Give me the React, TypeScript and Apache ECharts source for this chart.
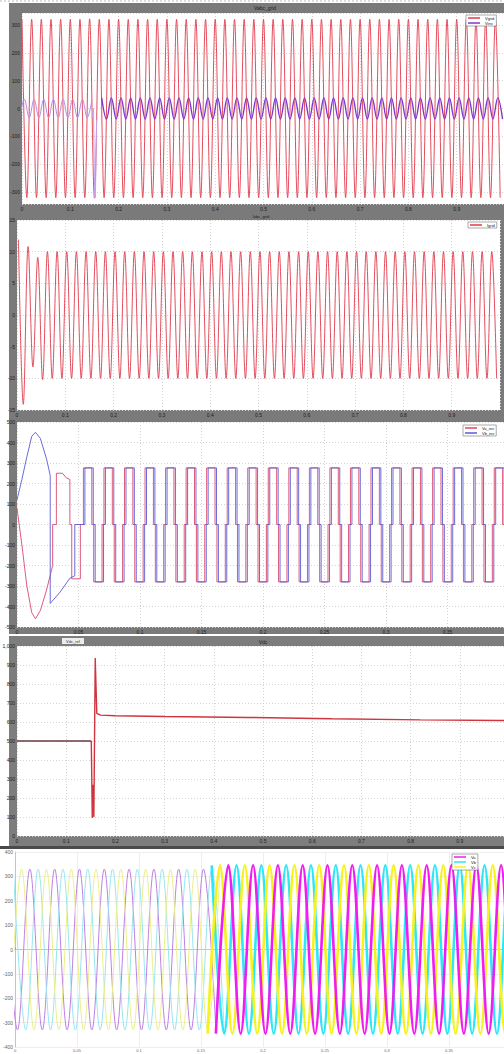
import { useEffect, useRef } from "react";
import * as echarts from "echarts";

const FONT = "Liberation Sans";

// ---------------- texts ----------------
const panelTitles = ["Vabc_grid", "Iabc_grid", "Vdc"];
const panel4Tag = "Vdc_ref";
const p1Names = ["Vgrid", "Vinv"];
const p2Names = ["Igrid"];
const p3Names = ["Va_inv", "Vb_inv"];
const p5Names = ["Va", "Vb", "Vc"];

// ---------------- panel 1 : grid voltage (V), extrema per cycle ----------------
const p1RedAmp = [
  320, 320, 320, 320, 320, 320, 320, 322, 320, 320,
  320, 320, 320, 320, 320, 320, 320, 320, 320, 320,
  320, 320, 320, 320, 320, 320, 320, 320, 320, 320,
  320, 320, 320, 320, 320, 320, 320, 320, 320, 320,
  320, 320, 320, 320, 320, 320, 320, 320, 320, 320,
];
const p1PurplePreAmp = [33, 33, 33, 33, 33, 33, 33, 33];
const p1DipT = [0.145, 0.148, 0.1505, 0.152, 0.1545];
const p1DipV = [-33, 0, -322, -320, -40];
const p1PurplePostAmp = [
  38, 38, 38, 38, 38, 38, 38, 38, 38, 38,
  38, 38, 38, 38, 38, 38, 38, 38, 38, 38,
  38, 38, 38, 38, 38, 38, 38, 38, 38, 38,
  38, 38, 38, 38, 38, 38, 38, 38, 38, 38,
  38, 38,
];

// ---------------- panel 2 : grid current (A), peaks / troughs per cycle ----------------
const p2Peaks = [
  11.9, 10.8, 9.1, 10.0, 10.0, 10.0, 10.0, 10.0, 10.0, 10.0,
  10.0, 10.0, 10.0, 10.0, 10.0, 10.0, 10.0, 10.0, 10.0, 10.0,
  10.0, 10.0, 10.0, 10.0, 10.0, 10.0, 10.0, 10.0, 10.0, 10.0,
  10.0, 10.0, 10.0, 10.0, 10.0, 10.0, 10.0, 10.0, 10.0, 10.0,
  10.0, 10.0, 10.0, 10.0, 10.0, 10.0, 10.0, 10.0, 10.0, 10.0,
];
const p2Troughs = [
  -14.1, -8.2, -10.2, -10.0, -10.0, -10.0, -10.0, -10.0, -10.0, -10.0,
  -10.0, -10.0, -10.0, -10.0, -10.0, -10.0, -10.0, -10.0, -10.0, -10.0,
  -10.0, -10.0, -10.0, -10.0, -10.0, -10.0, -10.0, -10.0, -10.0, -10.0,
  -10.0, -10.0, -10.0, -10.0, -10.0, -10.0, -10.0, -10.0, -10.0, -10.0,
  -10.0, -10.0, -10.0, -10.0, -10.0, -10.0, -10.0, -10.0, -10.0, -10.0,
];

// ---------------- panel 3 : inverter legs, start-up then pulses ----------------
const p3RedStartT = [0, 0.004, 0.008, 0.012, 0.015, 0.019, 0.024, 0.029, 0.029, 0.032, 0.032, 0.037, 0.04, 0.043, 0.043, 0.0445, 0.0445, 0.0515, 0.0515, 0.054];
const p3RedStartV = [80, -100, -300, -430, -460, -420, -320, -200, 0, 0, 250, 250, 228, 220, 0, 0, -265, -265, 0, 0];
const p3BlueStartT = [0, 0.004, 0.008, 0.012, 0.015, 0.019, 0.024, 0.027, 0.027, 0.035, 0.043, 0.047, 0.047, 0.0552];
const p3BlueStartV = [120, 220, 330, 430, 450, 420, 320, 240, -385, -330, -262, -250, 0, 0];
const p3RedHigh = [276, 276, 276, 276, 276, 276, 276, 276, 276, 276, 276, 276, 276, 276, 276, 276, 276, 276, 276, 276, 276, 276];
const p3RedLow = [-280, -280, -280, -280, -280, -280, -280, -280, -280, -280, -280, -280, -280, -280, -280, -280, -280, -280, -280, -280, -280, -280];
const p3BlueHigh = [276, 276, 276, 276, 276, 276, 276, 276, 276, 276, 276, 276, 276, 276, 276, 276, 276, 276, 276, 276, 276, 276];
const p3BlueLow = [-280, -280, -280, -280, -280, -280, -280, -280, -280, -280, -280, -280, -280, -280, -280, -280, -280, -280, -280, -280, -280, -280];

// ---------------- panel 4 : DC link ----------------
const p4Time = [0, 0.151, 0.153, 0.1548, 0.1562, 0.159, 0.1622, 0.17, 0.2, 0.3, 0.47, 0.64, 0.82, 0.98, 1.0];
const p4Value = [500, 500, 95, 270, 100, 937, 645, 636, 633, 629, 624, 617, 611, 608, 608];

// ---------------- panel 5 : three-phase voltages, amplitude per cycle ----------------
const p5MagPre = [330, 330, 330, 330, 330, 330, 330, 330, 330];
const p5CyaPre = [330, 330, 330, 330, 330, 330, 330, 330, 330];
const p5YelPre = [330, 330, 330, 330, 330, 330, 330, 330, 330];
const p5MagPost = [345, 345, 345, 345, 345, 345, 345, 345, 345, 345, 345, 345, 345];
const p5CyaPost = [345, 345, 345, 345, 345, 345, 345, 345, 345, 345, 345, 345, 345];
const p5YelPost = [345, 345, 345, 345, 345, 345, 345, 345, 345, 345, 345, 345, 345];

// ---------------- helpers ----------------
function alternate(t0: number, half: number, first: number, amps: number[]) {
  const pts: number[][] = [];
  amps.forEach((a, i) => {
    pts.push([t0 + 2 * i * half, first * a]);
    pts.push([t0 + (2 * i + 1) * half, -first * a]);
  });
  return pts;
}
function interleave(t0: number, half: number, peaks: number[], troughs: number[]) {
  const pts: number[][] = [];
  peaks.forEach((p, i) => {
    pts.push([t0 + 2 * i * half, p]);
    pts.push([t0 + (2 * i + 1) * half, troughs[i]]);
  });
  return pts;
}
function zip(ts: number[], vs: number[]) {
  return ts.map((t, i) => [t, vs[i]]);
}
function pulses(start: number, period: number, width: number, highs: number[], lows: number[]) {
  const pts: number[][] = [];
  highs.forEach((h, i) => {
    const s = start + i * period;
    const m = s + period / 2;
    pts.push([s, 0], [s, h], [s + width, h], [s + width, 0], [m, 0], [m, lows[i]], [m + width, lows[i]], [m + width, 0]);
  });
  return pts;
}

const txt = { fontSize: 5, color: "#1e1e1e", fontFamily: FONT };

// labels of ticks that fall past the right edge of the page are left blank
function xAxis(gi: number, max: number, interval: number, lastShown: number, p5 = false) {
  return {
    type: "value", gridIndex: gi, min: 0, max, interval,
    axisLine: { show: p5, lineStyle: { color: "#c4c4c4" } },
    axisTick: { show: p5, length: 2, inside: true, lineStyle: { color: "#999" } },
    axisLabel: {
      ...txt, margin: p5 ? 1 : 2, fontSize: p5 ? 4 : 5, color: p5 ? "#666" : "#1e1e1e",
      formatter: (v: number) => (v > lastShown + 1e-9 ? "" : String(+v.toFixed(2))),
    },
    splitLine: { show: true, lineStyle: p5 ? { color: "#eeeeee", width: 1 } : { color: "#d4d4d4", type: [1, 2], width: 1 } },
  };
}
function yAxis(gi: number, min: number, max: number, interval?: number, p5 = false) {
  const a: any = {
    type: "value", gridIndex: gi, min, max,
    axisLine: { show: p5, lineStyle: { color: "#c4c4c4" } },
    axisTick: { show: false },
    axisLabel: { ...txt, margin: 2, showMinLabel: interval !== undefined, showMaxLabel: interval !== undefined, color: p5 ? "#666" : "#1e1e1e" },
    splitLine: { show: true, lineStyle: p5 ? { color: "#eeeeee", width: 1 } : { color: "#d4d4d4", type: [1, 2], width: 1 } },
  };
  if (interval !== undefined) a.interval = interval;
  else a.splitNumber = 7;
  return a;
}

function line(name: string, xi: number, data: number[][], color: string, width: number, smooth: number | false, opacity = 1) {
  return {
    type: "line", name, xAxisIndex: xi, yAxisIndex: xi, data,
    showSymbol: false, symbol: "none", smooth, silent: true,
    lineStyle: { color, width, opacity }, itemStyle: { color },
  };
}

const legendBase = {
  orient: "vertical", icon: "rect", itemWidth: 12, itemHeight: 1.5, itemGap: 1,
  textStyle: { fontSize: 4, color: "#222", fontFamily: FONT },
  backgroundColor: "#ffffff", borderColor: "#555", borderWidth: 0.5, padding: [1, 2],
  selectedMode: false,
};

function buildOption() {
  const grids = [
    { left: 22, top: 13, width: 483, height: 191 },
    { left: 17, top: 220, width: 483, height: 190 },
    { left: 17, top: 422, width: 615, height: 205 },
    { left: 17, top: 646, width: 492, height: 190 },
    { left: 15, top: 852, width: 620, height: 195 },
  ];

  const series: any[] = [
    // panel 1
    line(p1Names[0], 0, alternate(0, 0.01, 1, p1RedAmp), "#e03a4a", 1, 0.36, 0.9),
    line("Vinv_pre", 0, alternate(-0.005, 0.01, -1, p1PurplePreAmp), "#b98be8", 1, 0.36),
    line("Vinv_dip", 0, zip(p1DipT, p1DipV), "#c6a4ee", 1, false),
    line(p1Names[1], 0, alternate(0.165, 0.01, 1, p1PurplePostAmp), "#8236cc", 1.4, 0.36),
    // panel 2
    line(p2Names[0], 1, interleave(0.003, 0.01, p2Peaks, p2Troughs), "#e03a4a", 1, 0.36, 0.9),
    // panel 3
    line("Va_start", 2, zip(p3RedStartT, p3RedStartV), "#d9486c", 0.9, false),
    line("Vb_start", 2, zip(p3BlueStartT, p3BlueStartV), "#5a5ad6", 0.9, false),
    line(p3Names[0], 2, pulses(0.054, 0.0167, 0.0068, p3RedHigh, p3RedLow), "#d9486c", 0.9, false),
    line(p3Names[1], 2, pulses(0.0552, 0.0167, 0.0068, p3BlueHigh, p3BlueLow), "#5a5ad6", 0.9, false),
    // panel 4
    line("Vdc_pre", 3, zip(p4Time.slice(0, 2), p4Value.slice(0, 2)), "#6b3a3e", 1.3, false),
    line("Vdc", 3, zip(p4Time.slice(1), p4Value.slice(1)), "#d0343e", 1.4, false),
    // panel 5 (before sync: light, after: saturated)
    line("Va_pre", 4, alternate(-0.008, 0.01, 1, p5MagPre), "#bd80e2", 1, 0.36),
    line("Vb_pre", 4, alternate(-0.00133, 0.01, 1, p5CyaPre), "#98e6f0", 1, 0.36),
    line("Vc_pre", 4, alternate(-0.00467, 0.01, -1, p5YelPre), "#ecef8a", 1, 0.36),
    line(p5Names[1], 4, alternate(0.15867, 0.01, 1, p5CyaPost), "#2ee6f6", 2.6, 0.36),
    line(p5Names[2], 4, alternate(0.15533, 0.01, -1, p5YelPost), "#f7f21c", 2.6, 0.36),
    line(p5Names[0], 4, alternate(0.162, 0.01, -1, p5MagPost), "#f01cf0", 2.6, 0.36),
  ];

  const graphic: any[] = [
    { type: "line", z: -120, shape: { x1: 0, y1: 1, x2: 504, y2: 1 }, style: { stroke: "#b8b8b8", lineWidth: 1, lineDash: [2, 2] } },
    { type: "rect", z: -110, shape: { x: 9, y: 3, width: 495, height: 631 }, style: { fill: "#7a7a7a" } },
    { type: "rect", z: -110, shape: { x: 9, y: 636, width: 495, height: 210 }, style: { fill: "#7d7d7d" } },
    { type: "rect", z: -110, shape: { x: 0, y: 846, width: 504, height: 3 }, style: { fill: "#4a4a4a" } },
    ...grids.slice(0, 4).map((g) => ({
      type: "rect", z: -105, shape: { x: g.left, y: g.top, width: g.width, height: g.height }, style: { fill: "#ffffff" },
    })),
    { type: "rect", z: -100, shape: { x: 62, y: 638, width: 22, height: 6 }, style: { fill: "#ececec" } },
    { type: "text", z: 50, x: 73, y: 641, style: { text: panel4Tag, fontSize: 4, fill: "#333", fontFamily: FONT, align: "center", verticalAlign: "middle" } },
    { type: "text", z: 50, x: 265, y: 7.5, style: { text: panelTitles[0], fontSize: 5, fill: "#1e1e1e", fontFamily: FONT, align: "center", verticalAlign: "middle" } },
    { type: "text", z: 50, x: 261, y: 216.5, style: { text: panelTitles[1], fontSize: 4, fill: "#1e1e1e", fontFamily: FONT, align: "center", verticalAlign: "middle" } },
    { type: "text", z: 50, x: 263, y: 641.5, style: { text: panelTitles[2], fontSize: 5, fill: "#1e1e1e", fontFamily: FONT, align: "center", verticalAlign: "middle" } },
  ];

  return {
    animation: false,
    backgroundColor: "#ffffff",
    textStyle: { fontFamily: FONT },
    grid: grids.map((g) => ({ ...g, containLabel: false, outerBoundsMode: "none", show: false })),
    xAxis: [
      xAxis(0, 1, 0.1, 0.9),
      xAxis(1, 1, 0.1, 0.9),
      xAxis(2, 0.5, 0.05, 0.35),
      xAxis(3, 1, 0.1, 0.9),
      xAxis(4, 0.5, 0.05, 0.35, true),
    ],
    yAxis: [
      yAxis(0, -343, 343),
      yAxis(1, -15, 15, 5),
      yAxis(2, -500, 500, 100),
      yAxis(3, 0, 1000, 100),
      yAxis(4, -400, 400, 100, true),
    ],
    legend: [
      { ...legendBase, left: 466, top: 15, data: p1Names },
      { ...legendBase, left: 468, top: 222, data: p2Names },
      { ...legendBase, left: 463, top: 425, data: p3Names },
      { ...legendBase, left: 452, top: 854, data: p5Names },
    ],
    graphic,
    series,
  };
}

export default function App() {
  const ref = useRef<HTMLDivElement>(null);
  useEffect(() => {
    const chart = echarts.init(ref.current!, null, { renderer: "svg" });
    chart.setOption(buildOption() as any);
    return () => chart.dispose();
  }, []);
  return (
    <div
      ref={ref}
      style={{ position: "absolute", left: 0, top: 0, width: 504, height: 1054, background: "#fff" }}
    />
  );
}
